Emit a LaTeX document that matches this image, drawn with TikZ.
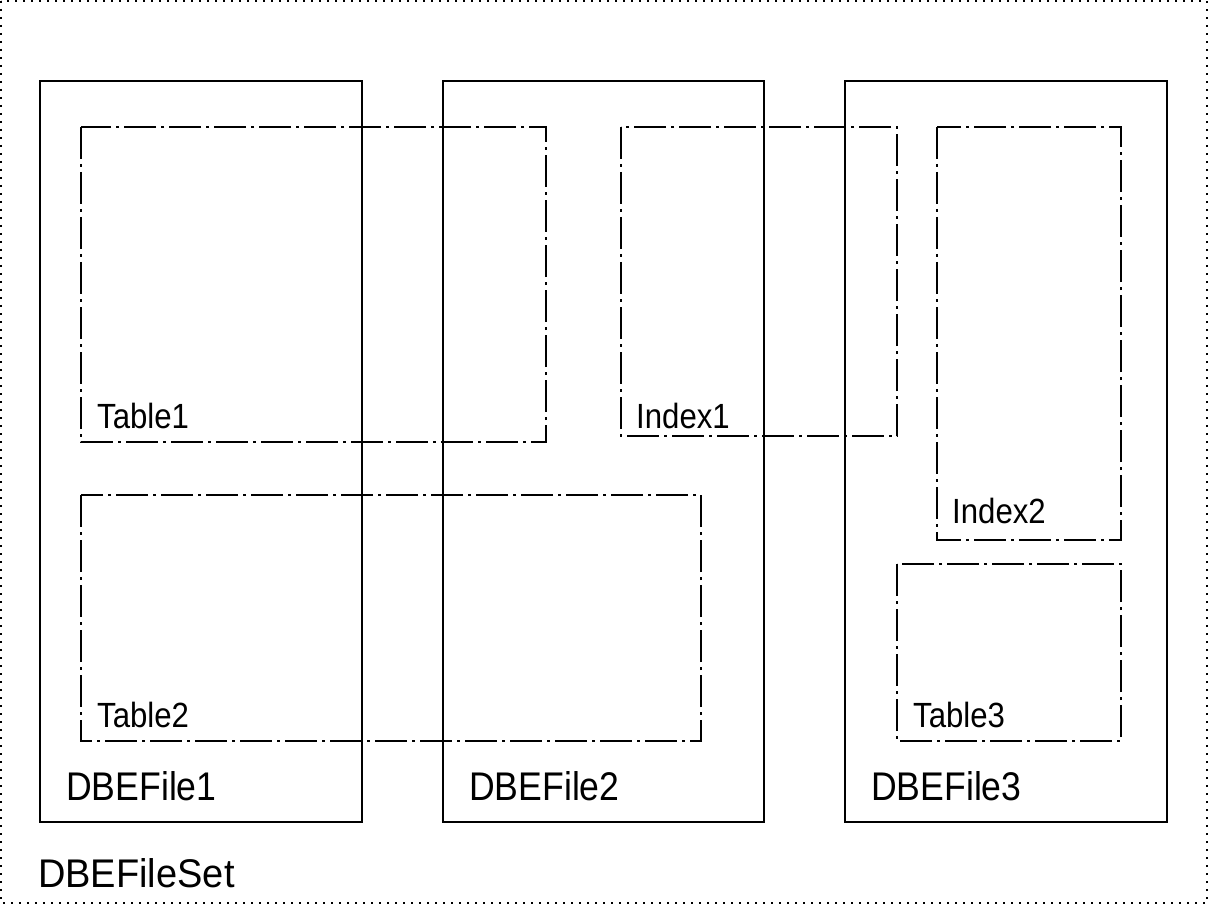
\documentclass[tikz,border=0pt]{standalone}
\usepackage{fontspec}
\setmainfont{Liberation Sans}
\begin{document}
\begin{tikzpicture}[x=1pt,y=-1pt,
  filebox/.style={draw,line width=1.2pt},
  segbox/.style={draw,line width=1.2pt,dash pattern=on 32pt off 5pt on 3pt off 5pt},
  setbox/.style={draw,line width=1.2pt,dash pattern=on 2pt off 6pt},
  lbl/.style={anchor=base west,inner sep=0pt,font=\fontsize{35}{40}\selectfont},
  biglbl/.style={anchor=base west,inner sep=0pt,font=\fontsize{40}{44}\selectfont}]
\useasboundingbox (0,0) rectangle (1208,904);
% file set
\draw[setbox] (1,1) rectangle (1207,903);
\node[biglbl] (setlbl) at (38,887) {\scalebox{0.95}[1]{DBEFileSet}};
% files
\draw[filebox] (40,81) rectangle (362,822);
\draw[filebox] (443,81) rectangle (764,822);
\draw[filebox] (845,81) rectangle (1167,822);
\node[biglbl] (f1) at (66,800) {\scalebox{0.89}[1]{DBEFile1}};
\node[biglbl] (f2) at (469,800) {\scalebox{0.89}[1]{DBEFile2}};
\node[biglbl] (f3) at (871,800) {\scalebox{0.89}[1]{DBEFile3}};
% segments
\draw[segbox] (81,127) rectangle (546,442);
\draw[segbox] (621,127) rectangle (897,436);
\draw[segbox] (937,127) rectangle (1121,540);
\draw[segbox] (81,495) rectangle (701,741);
\draw[segbox] (897,564) rectangle (1121,741);
\node[lbl] (t1) at (97,428) {\scalebox{0.89}[1]{Table1}};
\node[lbl] (i1) at (636,428) {\scalebox{0.89}[1]{Index1}};
\node[lbl] (i2) at (952,523) {\scalebox{0.89}[1]{Index2}};
\node[lbl] (t2) at (97,727) {\scalebox{0.89}[1]{Table2}};
\node[lbl] (t3) at (913,727) {\scalebox{0.89}[1]{Table3}};
\end{tikzpicture}
\end{document}
